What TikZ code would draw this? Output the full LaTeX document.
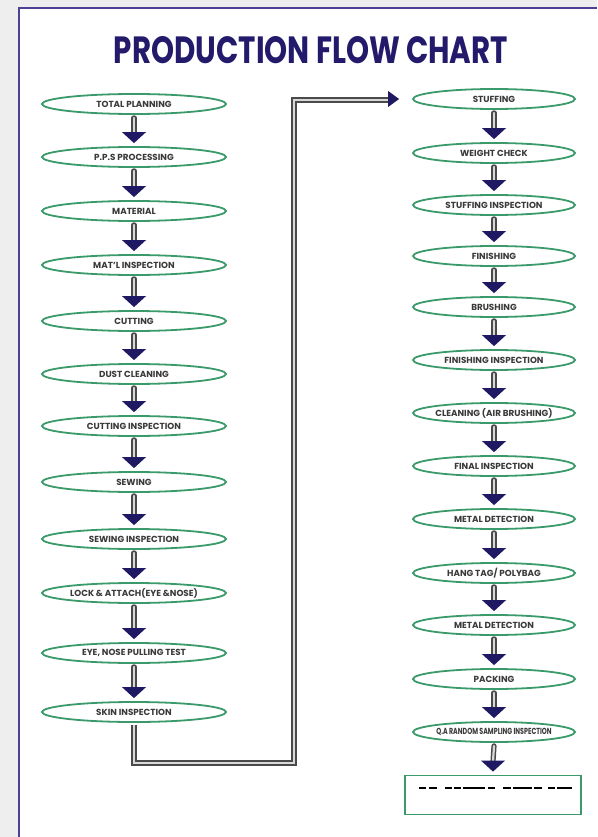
\documentclass[tikz,border=0pt]{standalone}
\usepackage{fontspec}
\setmainfont{Poppins}
\usepackage{graphicx}
\usetikzlibrary{shapes.geometric,calc}
\definecolor{bggray}{HTML}{EEEEEE}
\definecolor{framepurple}{HTML}{4B4196}
\definecolor{titlenavy}{HTML}{231A6B}
\definecolor{ellgreen}{HTML}{3A9A6A}
\definecolor{headnavy}{HTML}{1F1862}
\definecolor{shaftdark}{HTML}{4A4A4A}
\definecolor{shaftlight}{HTML}{D8D8D8}
\definecolor{labelgray}{HTML}{3A3A3A}
\newcommand\lbl[1]{\makebox[0pt]{#1}}
\newcommand\flowarrow[2]{%
  \draw[shaftline] ($(#1.south)+(0,3)$) -- ($(#2.north)+(0,-13)$);
  \fill[headnavy] ($(#2.north)+(-12,-14)$) -- ($(#2.north)+(12,-14)$) -- ($(#2.north)+(0,-3)$) -- cycle;}
\tikzset{
  stepell/.style={ellipse, draw=ellgreen, line width=1.8pt, fill=white, inner sep=0pt,
    minimum height=20pt, font=\bfseries\fontsize{8.8}{9}\selectfont, text=labelgray},
  leftell/.style={stepell, minimum width=184pt},
  rightell/.style={stepell, minimum width=162pt},
  shaftline/.style={draw=shaftdark, line width=1.5pt, double=shaftlight, double distance=2.2pt, line cap=round},
  loopline/.style={draw=shaftdark, line width=1.6pt, double=shaftlight, double distance=2.6pt, line join=miter},
  dashseg/.style={draw=black, line width=1.6pt}
}
\begin{document}
\begin{tikzpicture}[x=1pt,y=-1pt]
\useasboundingbox (0,0) rectangle (597,837);
\fill[bggray] (0,0) rectangle (597,837);
\fill[white] (19,8) rectangle (597,837);
\draw[framepurple, line width=2pt] (19,837) -- (19,8) -- (597,8);
\node[text=titlenavy, inner sep=0pt] (title) at (311,50) {\resizebox{394pt}{27pt}{\bfseries PRODUCTION FLOW CHART}};
% left column
\node[leftell] (L1) at (134,104) {\lbl{TOTAL PLANNING}};
\node[leftell] (L2) at (134,157) {\lbl{P.P.S PROCESSING}};
\node[leftell] (L3) at (134,211) {\lbl{MATERIAL}};
\node[leftell] (L4) at (134,265) {\lbl{MAT'L INSPECTION}};
\node[leftell] (L5) at (134,321) {\lbl{CUTTING}};
\node[leftell] (L6) at (134,374) {\lbl{DUST CLEANING}};
\node[leftell] (L7) at (134,426) {\lbl{CUTTING INSPECTION}};
\node[leftell] (L8) at (134,482) {\lbl{SEWING}};
\node[leftell] (L9) at (134,539) {\lbl{SEWING INSPECTION}};
\node[leftell] (L10) at (134,593) {\lbl{LOCK \& ATTACH(EYE \&NOSE)}};
\node[leftell] (L11) at (134,653) {\lbl{EYE, NOSE PULLING TEST}};
\node[leftell] (L12) at (134,712) {\lbl{SKIN INSPECTION}};
% right column
\node[rightell] (R1) at (494,99) {\lbl{STUFFING}};
\node[rightell] (R2) at (494,153) {\lbl{WEIGHT CHECK}};
\node[rightell] (R3) at (494,205) {\lbl{STUFFING INSPECTION}};
\node[rightell] (R4) at (494,256) {\lbl{FINISHING}};
\node[rightell] (R5) at (494,307) {\lbl{BRUSHING}};
\node[rightell] (R6) at (494,360) {\lbl{FINISHING INSPECTION}};
\node[rightell] (R7) at (494,413) {\lbl{CLEANING (AIR BRUSHING)}};
\node[rightell] (R8) at (494,466) {\lbl{FINAL INSPECTION}};
\node[rightell] (R9) at (494,519) {\lbl{METAL DETECTION}};
\node[rightell] (R10) at (494,573) {\lbl{HANG TAG/ POLYBAG}};
\node[rightell] (R11) at (494,625) {\lbl{METAL DETECTION}};
\node[rightell] (R12) at (494,679) {\lbl{PACKING}};
\node[rightell] (R13) at (494,732) {\lbl{\scalebox{0.72}[1]{Q.A RANDOM SAMPLING INSPECTION}}};
\node[draw=ellgreen, line width=1.8pt, minimum width=176pt, minimum height=39pt, inner sep=0pt] (box) at (493,795) {};
% placeholder dashes in the box
\foreach \s/\e in {419/426,429/437,445/452,454/461,463/485,488/495,503/511,513/532,534/542,548/555,557/572}{
  \draw[dashseg] (\s,788) -- (\e,788);}
% arrows
\foreach \a/\b in {L1/L2,L2/L3,L3/L4,L4/L5,L5/L6,L6/L7,L7/L8,L8/L9,L9/L10,L10/L11,L11/L12,
  R1/R2,R2/R3,R3/R4,R4/R5,R5/R6,R6/R7,R7/R8,R8/R9,R9/R10,R10/R11,R11/R12,R12/R13,R13/box}{\flowarrow{\a}{\b}}
% loop connector
\coordinate (loopB) at (294,763);
\coordinate (loopT) at (294,100);
\coordinate (loopE) at (390,100);
\draw[loopline] ($(L12.south)+(0,2)$) |- (loopB) -- (loopT) -- (loopE);
\fill[headnavy] ($(R1.west)+(-24,-8)$) -- ($(R1.west)+(-24,8)$) -- ($(R1.west)+(-13,0)$) -- cycle;
\end{tikzpicture}
\end{document}
